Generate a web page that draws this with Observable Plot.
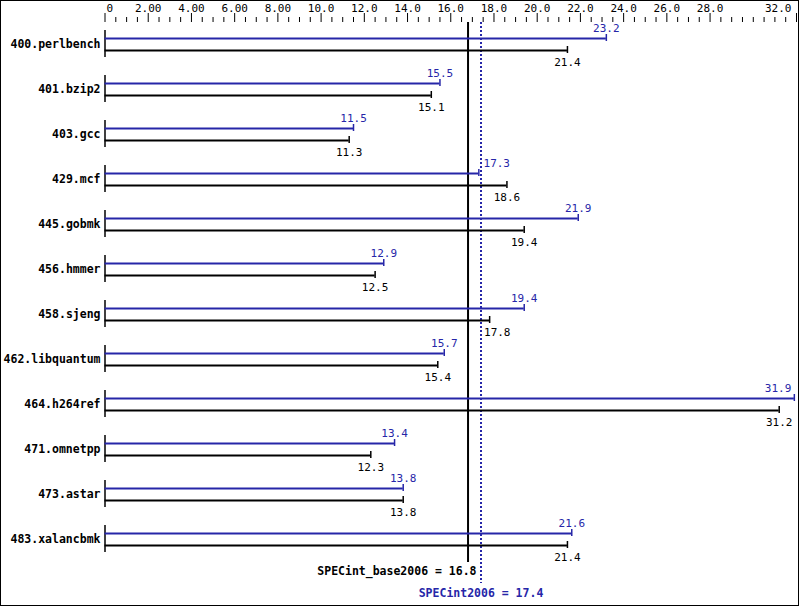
<!DOCTYPE html>
<html>
<head>
<meta charset="utf-8">
<script src="https://cdn.jsdelivr.net/npm/d3@7"></script>
<script src="https://cdn.jsdelivr.net/npm/@observablehq/plot@0.6"></script>
<style>
  html, body { margin: 0; padding: 0; background: #fff; }
  #chart svg { display: block; outline: 1px solid #000; outline-offset: -1px; }
</style>
</head>
<body>
<div id="chart"></div>
<script>
// ---- data ----
const benchmarks = [
  "400.perlbench", "401.bzip2", "403.gcc", "429.mcf", "445.gobmk", "456.hmmer",
  "458.sjeng", "462.libquantum", "464.h264ref", "471.omnetpp", "473.astar", "483.xalancbmk"
];
const baseScores = [21.4, 15.1, 11.3, 18.6, 19.4, 12.5, 17.8, 15.4, 31.2, 12.3, 13.8, 21.4];
const peakScores = [23.2, 15.5, 11.5, 17.3, 21.9, 12.9, 19.4, 15.7, 31.9, 13.4, 13.8, 21.6];
const baseMean = 16.8;
const peakMean = 17.4;
const baseMeanLabel = "SPECint_base2006 = 16.8";
const peakMeanLabel = "SPECint2006 = 17.4";
const majorTicks = [0, 2, 4, 6, 8, 10, 12, 14, 16, 18, 20, 22, 24, 26, 28, 32];
const majorTickLabels = ["0", "2.00", "4.00", "6.00", "8.00", "10.0", "12.0", "14.0", "16.0",
  "18.0", "20.0", "22.0", "24.0", "26.0", "28.0", "32.0"];

// ---- styling ----
const W = 799, H = 606;
const BLUE = "#2626a8";
const FONT = "'DejaVu Sans Mono', 'Liberation Mono', monospace";
const xRange = [104.5, 796];

const rows = benchmarks.map((name, i) => ({name, i, base: baseScores[i], peak: peakScores[i]}));
const minorTicks = d3.range(0, 32.001, 0.5).filter(v => !majorTicks.includes(v));
const ticks = majorTicks.map((v, k) => ({v, label: majorTickLabels[k], k}));

// label placement: centred on the bar end, unless it would hit a mean line
// (then placed just right of it) or the right edge (then right-aligned)
const xs = d3.scaleLinear().domain([0, 32]).range(xRange);
const refs = [baseMean, peakMean];
const refMax = Math.max(...refs);
const HALF = 14;
const placement = v => {
  if (xs(v) + HALF > W - 4) return "edge";
  if (refs.some(r => Math.abs(xs(v) - xs(r)) < HALF + 2)) return "ref";
  return "centre";
};
const valueLabels = (key, dy, fill, dxRef) => {
  const common = {y: "i", text: d => d[key].toFixed(1), dy, lineAnchor: "bottom", fontSize: 11, fill};
  return [
    Plot.text(rows.filter(d => placement(d[key]) === "centre"), {...common, x: key}),
    Plot.text(rows.filter(d => placement(d[key]) === "ref"), {...common, x: () => refMax, dx: dxRef, textAnchor: "start"}),
    Plot.text(rows.filter(d => placement(d[key]) === "edge"), {...common, x: key, dx: -3, textAnchor: "end"})
  ];
};

const chart = Plot.plot({
  width: W,
  height: H,
  marginTop: 0, marginBottom: 0, marginLeft: 0, marginRight: 0,
  x: {domain: [0, 32], range: xRange, axis: null},
  y: {domain: [0, benchmarks.length - 1], range: [44, 539], axis: null},
  style: {fontFamily: FONT, background: "#fff", color: "#000"},
  marks: [
    // top axis ticks
    Plot.ruleX(minorTicks, {x: d => d, insetTop: 17, insetBottom: H - 22, stroke: "#000", strokeWidth: 1}),
    Plot.ruleX(ticks, {x: "v", insetTop: 13, insetBottom: H - 22, stroke: "#000", strokeWidth: 1}),
    Plot.text(ticks.filter(d => d.k > 0 && d.k < ticks.length - 1), {
      x: "v", text: "label", frameAnchor: "top", dy: 11, lineAnchor: "bottom",
      fontSize: 11, fill: "#000"
    }),
    Plot.text(ticks.filter(d => d.k === 0), {
      x: "v", text: "label", frameAnchor: "top", dy: 11, lineAnchor: "bottom",
      textAnchor: "start", dx: 1.5, fontSize: 11, fill: "#000"
    }),
    Plot.text(ticks.filter(d => d.k === ticks.length - 1), {
      x: "v", text: "label", frameAnchor: "top", dy: 11, lineAnchor: "bottom",
      textAnchor: "end", dx: -5, fontSize: 11, fill: "#000"
    }),
    // mean lines
    Plot.ruleX([baseMean], {x: d => d, insetTop: 22, insetBottom: H - 562, stroke: "#000", strokeWidth: 2}),
    Plot.ruleX([peakMean], {x: d => d, insetTop: 22, insetBottom: H - 583, stroke: BLUE, strokeWidth: 2, strokeDasharray: "2,2"}),
    Plot.text([baseMeanLabel], {
      x: () => baseMean, text: d => d, frameAnchor: "top", dy: 574, lineAnchor: "bottom",
      textAnchor: "end", dx: 8.5, fontSize: 11.5, fontWeight: "bold", fill: "#000"
    }),
    Plot.text([peakMeanLabel], {
      x: () => peakMean, text: d => d, frameAnchor: "top", dy: 596, lineAnchor: "bottom",
      textAnchor: "middle", fontSize: 11.5, fontWeight: "bold", fill: BLUE
    }),
    // row base ticks at x = 0
    Plot.ruleX(rows, {x: () => 0, y1: "i", y2: "i", insetTop: -14, insetBottom: -13, stroke: "#000", strokeWidth: 1.5}),
    // bars
    Plot.ruleY(rows, {y: "i", x1: () => 0, x2: "peak", dy: -6, stroke: BLUE, strokeWidth: 2}),
    Plot.ruleY(rows, {y: "i", x1: () => 0, x2: "base", dy: 6, stroke: "#000", strokeWidth: 2}),
    // end caps
    Plot.ruleX(rows, {x: "peak", y1: "i", y2: "i", dy: -6, insetTop: -4, insetBottom: -3, stroke: BLUE, strokeWidth: 1.5}),
    Plot.ruleX(rows, {x: "base", y1: "i", y2: "i", dy: 6, insetTop: -4, insetBottom: -3, stroke: "#000", strokeWidth: 1.5}),
    // value labels
    ...valueLabels("peak", -13, BLUE, 2.5),
    ...valueLabels("base", 21, "#000", 3),
    // benchmark labels
    Plot.text(rows, {x: () => 0, y: "i", text: "name", textAnchor: "end", dx: -4.5, fontSize: 11.5, fontWeight: "bold", fill: "#000"})
  ]
});
document.getElementById("chart").appendChild(chart);
</script>
</body>
</html>
